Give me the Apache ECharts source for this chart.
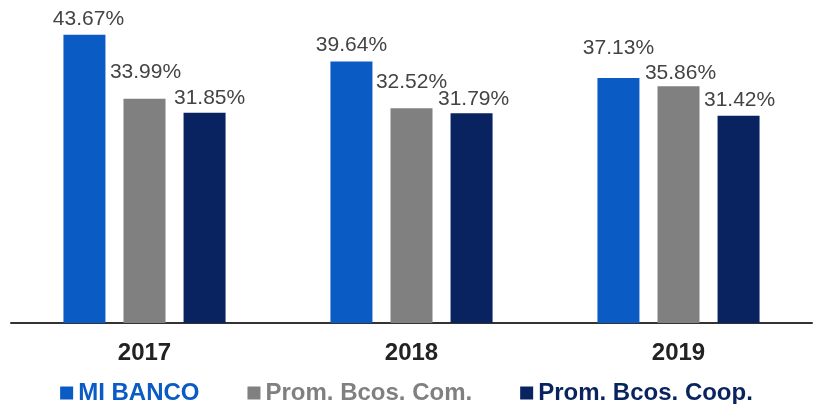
<!DOCTYPE html>
<html>
<head>
<meta charset="utf-8">
<script src="https://cdn.jsdelivr.net/npm/echarts@6/dist/echarts.min.js"></script>
<style>
html,body{margin:0;padding:0;background:#fff;}
#c{width:813px;height:404px;}
</style>
</head>
<body>
<div id="c"></div>
<script>
// Data
const years = ['2017', '2018', '2019'];
const seriesNames = ['MI BANCO', 'Prom. Bcos. Com.', 'Prom. Bcos. Coop.'];
const miBanco = [43.67, 39.64, 37.13];
const promCom = [33.99, 32.52, 35.86];
const promCoop = [31.85, 31.79, 31.42];

// Styling (not data)
const colors = ['#0a5bc4', '#808080', '#08235f'];
const labelLift = [[0, 1, 14], [11, 11, -2], [-1, -2, 0]];
const labelShiftX = [[4, 0, 0], [1, 0, 2], [5, 2, 1]];

const values = [miBanco, promCom, promCoop];
const chart = echarts.init(document.getElementById('c'));
chart.setOption({
  animation: false,
  grid: { left: 11, right: 1, top: 26, bottom: 81 },
  legend: {
    left: 'center',
    top: 376,
    itemWidth: 13,
    itemHeight: 13,
    itemGap: 48,
    icon: 'rect',
    data: seriesNames.map((n, i) => ({
      name: n,
      textStyle: { color: colors[i] }
    })),
    textStyle: { fontSize: 24, fontWeight: 'bold', fontFamily: 'Liberation Sans, Arial, sans-serif' }
  },
  xAxis: {
    type: 'category',
    data: years,
    axisLine: { lineStyle: { color: '#333', width: 2 } },
    axisTick: { show: false },
    axisLabel: { margin: 18, fontSize: 24, fontWeight: 'bold', color: '#222', fontFamily: 'Liberation Sans, Arial, sans-serif' }
  },
  yAxis: {
    type: 'value', min: 0, max: 45, show: false, splitLine: { show: false }
  },
  series: seriesNames.map((n, i) => ({
    name: n,
    type: 'bar',
    barWidth: 42,
    barGap: '43%',
    itemStyle: { color: colors[i] },
    label: {
      show: true,
      position: 'top',
      distance: 5,
      fontSize: 21,
      color: '#444',
      fontFamily: 'Liberation Sans, Arial, sans-serif',
      formatter: p => p.value.toFixed(2) + '%'
    },
    data: values[i].map((v, j) => ({
      value: v,
      label: { offset: [labelShiftX[i][j], -labelLift[i][j]] }
    }))
  }))
});
</script>
</body>
</html>
